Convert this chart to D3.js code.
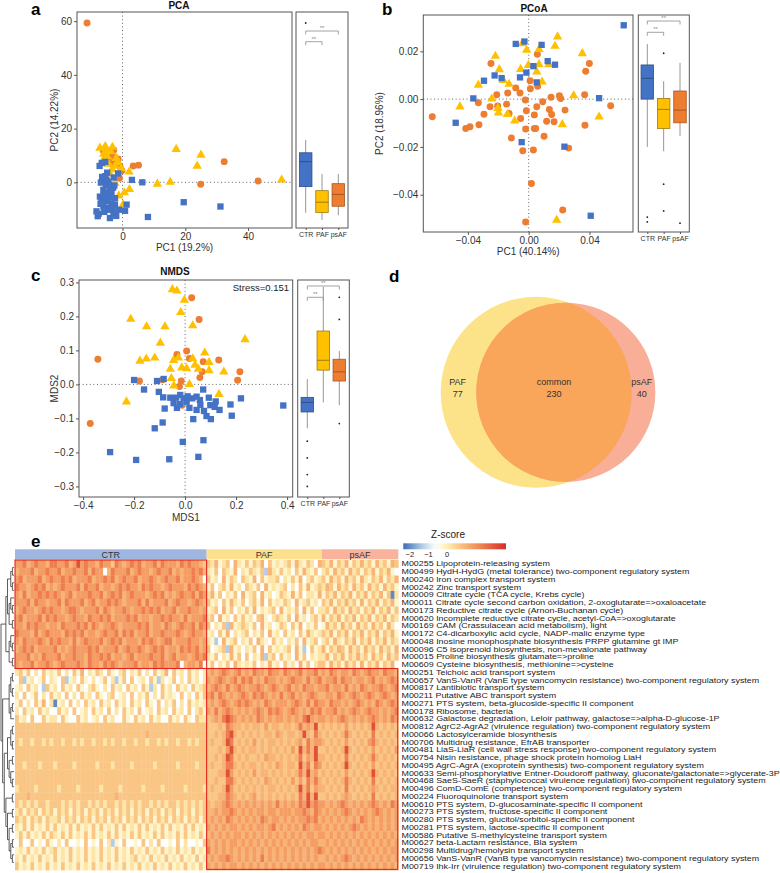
<!DOCTYPE html>
<html><head><meta charset="utf-8">
<script src="https://cdn.jsdelivr.net/npm/d3@7"></script>
<style>body{margin:0;background:#fff} svg text{font-family:"Liberation Sans",Arial,sans-serif}</style>
</head><body><svg id="c" width="780" height="873"></svg>
<script>
// ---------------- DATA ----------------
const groups = ['CTR','PAF','psAF'];

// Panel a: PCA
const pcaCTR = [[-7.3,6.1],[-6.6,7.2],[-5.5,7.6],[-4.9,3.6],[-1.4,3.3],[-2.8,1.8],[-6.9,-0.1],[-5.3,-1.0],[-4.0,-2.2],[-5.6,-3.8],[-4.0,-5.3],[-6.7,-6.5],[-5.1,-7.1],[-3.5,-8.0],[-4.9,-9.6],[-8.3,-10.8],[-7.6,-11.7],[-7.9,-12.6],[-4.0,-10.2],[-2.9,-11.4],[-4.0,-13.3],[-1.1,-10.2],[0.8,-10.6],[1.3,-8.3],[3.0,0.9],[6.3,0.0],[8.1,-12.9],[19.5,-7.4],[31.2,-9.0],[-6.1,-2.8],[-4.6,0.2],[-3.5,-4.0],[-2.4,-5.9],[-7.2,-5.3],[-6.1,-9.0],[-2.4,-8.3],[-5.1,0.9],[-5.5,2.3],[-3.0,-2.0],[-6.0,-4.6],[-4.5,-6.0],[-3.2,-9.3],[-5.8,-11.0],[-2.0,-12.5],[-6.5,2.0],[-4.2,-0.8],[-7.0,-8.0],[-3.8,-3.0],[-5.0,-5.5],[-2.6,-1.2]];
const pcaPAF = [[-7.2,12.8],[-5.5,13.4],[-3.2,13.1],[-4.9,9.7],[-5.3,8.5],[-2.4,6.1],[2.1,3.9],[17.1,12.3],[25.0,10.2],[23.8,6.1],[11.1,-0.6],[15.2,0.1],[2.2,-2.6],[0.6,-3.8],[-2.4,-0.4],[-4.0,3.2],[-2.9,-7.7],[0.2,-8.3],[50.7,0.9],[-6.0,10.5],[-3.8,11.5],[-1.5,7.5],[-4.4,6.8],[-3.3,4.8],[-6.3,8.0],[-2.0,9.0],[-5.0,11.8],[-1.2,-5.0],[-3.6,-6.2],[-0.5,5.2]];
const pcaPsAF = [[-11.3,59.3],[-6.1,11.7],[-3.7,10.4],[-2.5,9.4],[-1.4,8.7],[-3.2,6.7],[-0.2,4.3],[3.4,6.1],[5.1,6.4],[24.9,-0.7],[32.4,7.7],[43.2,0.5],[-1.9,-10.3],[-4.5,8.2],[-2.0,7.3],[-5.2,9.8],[-0.8,6.0],[-3.5,-5.8],[-1.0,1.5],[-2.8,12.0]];
const pcaBox = [
  {g:'CTR', lo:-11.3, q1:-1.6, med:7.7, q3:11.0, hi:15.8, out:[59.3]},
  {g:'PAF', lo:-14.0, q1:-11.2, med:-7.4, q3:-3.1, hi:3.1, out:[]},
  {g:'psAF', lo:-12.2, q1:-8.9, med:-4.5, q3:-0.5, hi:3.1, out:[]}];

// Panel b: PCoA
const pcoaCTR = [[0.0625,0.0309],[-0.0085,0.0231],[-0.0028,0.0241],[0.0085,0.0227],[0.0125,0.0159],[0.0173,0.0144],[0.0031,0.0138],[-0.0015,0.0111],[-0.0057,0.0091],[0.0053,0.0070],[-0.0178,0.0088],[-0.0224,0.0099],[-0.0294,0.0077],[-0.0364,0.0003],[0.0463,0.0004],[-0.0480,-0.0099],[-0.0046,-0.0180],[0.0235,-0.0199],[0.0408,-0.0488]];
const pcoaPAF = [[0.0190,0.0261],[0.0173,0.0222],[-0.0042,0.0233],[-0.0013,0.0205],[0.0068,0.0208],[-0.0219,0.0180],[-0.0193,0.0124],[-0.0167,0.0079],[-0.0129,0.0063],[-0.0331,0.0059],[-0.0053,0.0125],[-0.0002,0.0142],[0.0053,0.0114],[0.0068,0.0145],[0.0132,0.0145],[0.0088,0.0072],[0.0353,0.0191],[0.0296,0.0015],[-0.0243,0.0001],[-0.0202,-0.0038],[-0.0199,-0.0057],[-0.0140,-0.0064],[-0.0092,-0.0091],[0.0221,-0.0106],[0.0463,-0.0074],[-0.0452,-0.0032],[0.0184,-0.0506]];
const pcoaPsAF = [[-0.0634,-0.0074],[-0.0414,-0.0123],[-0.0386,-0.0116],[-0.0327,-0.0107],[-0.0331,-0.0015],[-0.0294,-0.0063],[-0.0254,-0.0032],[-0.0204,-0.0029],[-0.0248,0.0149],[-0.0210,0.0018],[-0.0145,-0.0021],[-0.0129,-0.0060],[-0.0138,0.0026],[-0.0085,0.0047],[-0.0057,0.0026],[-0.0114,-0.0163],[-0.0053,-0.0081],[-0.0039,-0.0216],[-0.0022,-0.0004],[-0.0015,-0.0049],[-0.0020,-0.0125],[0.0009,0.0077],[0.0011,0.0043],[0.0031,-0.0213],[0.0037,-0.0123],[0.0046,-0.0123],[0.0037,-0.0066],[0.0053,-0.0032],[0.0059,0.0054],[0.0057,0.0188],[0.0092,-0.0011],[0.0101,-0.0155],[0.0118,-0.0093],[0.0136,-0.0043],[0.0147,0.0008],[0.0151,-0.0064],[0.0167,-0.0095],[0.0202,0.0014],[0.0210,0.0003],[0.0239,-0.0046],[0.0263,-0.0205],[0.0375,0.0117],[0.0399,0.0149],[0.0368,0.0018],[0.0370,-0.0109],[0.0539,-0.0028],[0.0018,-0.0353],[0.0224,-0.0464],[-0.0020,-0.0514]];
const pcoaBox = [
  {g:'CTR', lo:-0.020, q1:0.0, med:0.0087, q3:0.0143, hi:0.023, out:[-0.0494,-0.0514]},
  {g:'PAF', lo:-0.0218, q1:-0.0123, med:-0.0043, q3:0.0003, hi:0.0075, out:[0.0192,-0.0356,-0.0468]},
  {g:'psAF', lo:-0.0154, q1:-0.0099, med:-0.0046, q3:0.0034, hi:0.0152, out:[-0.0519]}];

// Panel c: NMDS
const nmdsCTR = [[-0.200,0.013],[-0.161,-0.015],[-0.110,0.010],[-0.084,0.016],[-0.103,-0.022],[-0.086,-0.038],[-0.058,-0.039],[-0.035,-0.039],[-0.019,-0.031],[-0.006,-0.041],[0.006,-0.051],[0.028,-0.041],[0.045,-0.036],[0.058,-0.046],[0.071,-0.015],[0.093,-0.039],[0.099,-0.061],[0.116,-0.066],[0.135,-0.075],[0.178,-0.059],[0.219,-0.041],[0.183,-0.092],[-0.080,-0.071],[-0.032,-0.069],[0.017,-0.069],[0.045,-0.075],[0.074,-0.078],[0.084,-0.093],[0.101,-0.102],[0.032,-0.102],[-0.088,-0.112],[-0.119,-0.129],[-0.009,-0.169],[0.072,-0.164],[-0.062,-0.220],[0.052,-0.213],[0.385,-0.062],[-0.294,-0.199],[-0.192,-0.222],[-0.045,-0.055],[0.010,-0.035],[0.060,-0.060],[-0.020,-0.058],[0.120,-0.050]];
const nmdsPAF = [[-0.050,0.279],[-0.032,0.275],[-0.003,0.248],[-0.017,0.212],[0.030,0.173],[-0.213,0.192],[-0.151,0.170],[-0.079,0.170],[-0.097,0.122],[0.235,0.132],[-0.177,0.069],[-0.152,0.075],[-0.119,0.078],[-0.045,0.071],[-0.026,0.078],[-0.013,0.049],[0.006,0.047],[0.030,0.076],[0.039,0.057],[0.052,0.045],[0.077,0.093],[0.094,0.065],[0.094,0.041],[0.152,0.037],[-0.058,0.045],[-0.054,0.018],[-0.044,-0.004],[0.017,0.000],[0.133,-0.029],[-0.230,-0.051]];
const nmdsPsAF = [[0.026,0.255],[0.055,0.191],[-0.342,0.074],[-0.372,-0.115],[-0.032,0.088],[0.006,0.098],[0.017,0.076],[0.071,0.067],[0.132,0.072],[0.067,0.037],[0.058,0.020],[0.215,0.037],[0.206,0.012],[-0.179,0.010],[-0.088,0.014],[-0.015,0.010],[-0.022,-0.006],[-0.012,-0.061]];
const nmdsBox = [
  {g:'CTR', lo:-0.129, q1:-0.081, med:-0.053, q3:-0.038, hi:0.016, out:[-0.167,-0.216,-0.265,-0.300]},
  {g:'PAF', lo:-0.053, q1:0.042, med:0.071, q3:0.157, hi:0.287, out:[]},
  {g:'psAF', lo:-0.061, q1:0.010, med:0.037, q3:0.074, hi:0.098, out:[0.256,0.191,-0.115]}];

// Panel d: Venn
const vennNames = ['PAF','common','psAF'];
const vennCounts = [77,230,40];

// Panel e: heatmap (levels 0..9, 0 = low Z, 9 = high Z)
const zLevels = [-2.0,-1.3,-0.6,-0.2,0.2,0.7,1.0,1.4,1.9,2.6];
const heatGroups = ['CTR','PAF','psAF'];
const heatGroupSizes = [50,30,20];
const modules = [
"M00255 Lipoprotein-releasing system",
"M00499 HydH-HydG (metal tolerance) two-component regulatory system",
"M00240 Iron complex transport system",
"M00242 Zinc transport system",
"M00009 Citrate cycle (TCA cycle, Krebs cycle)",
"M00011 Citrate cycle second carbon oxidation, 2-oxoglutarate=>oxaloacetate",
"M00173 Reductive citrate cycle (Arnon-Buchanan cycle)",
"M00620 Incomplete reductive citrate cycle, acetyl-CoA=>oxoglutarate",
"M00169 CAM (Crassulacean acid metabolism), light",
"M00172 C4-dicarboxylic acid cycle, NADP-malic enzyme type",
"M00048 Inosine monophosphate biosynthesis PRPP glutamine gt IMP",
"M00096 C5 isoprenoid biosynthesis, non-mevalonate pathway",
"M00015 Proline biosynthesis glutamate=>proline",
"M00609 Cysteine biosynthesis, methionine=>cysteine",
"M00251 Teichoic acid transport system",
"M00657 VanS-VanR (VanE type vancomycin resistance) two-component regulatory system",
"M00817 Lantibiotic transport system",
"M00211 Putative ABC transport system",
"M00271 PTS system, beta-glucoside-specific II component",
"M00178 Ribosome, bacteria",
"M00632 Galactose degradation, Leloir pathway, galactose=>alpha-D-glucose-1P",
"M00812 AgrC2-AgrA2 (virulence regulation) two-component regulatory system",
"M00066 Lactosylceramide biosynthesis",
"M00706 Multidrug resistance, EfrAB transporter",
"M00481 LiaS-LiaR (cell wall stress response) two-component regulatory system",
"M00754 Nisin resistance, phage shock protein homolog LiaH",
"M00495 AgrC-AgrA (exoprotein synthesis) two-component regulatory system",
"M00633 Semi-phosphorylative Entner-Doudoroff pathway, gluconate/galactonate=>glycerate-3P",
"M00468 SaeS-SaeR (staphylococcal virulence regulation) two-component regulatory system",
"M00496 ComD-ComE (competence) two-component regulatory system",
"M00224 Fluoroquinolone transport system",
"M00610 PTS system, D-glucosaminate-specific II component",
"M00273 PTS system, fructose-specific II component",
"M00280 PTS system, glucitol/sorbitol-specific II component",
"M00281 PTS system, lactose-specific II component",
"M00586 Putative S-methylcysteine transport system",
"M00627 beta-Lactam resistance, Bla system",
"M00298 Multidrug/hemolysin transport system",
"M00656 VanS-VanR (VanB type vancomycin resistance) two-component regulatory system",
"M00719 Ihk-Irr (virulence regulation) two-component regulatory system"];

const heatCTR = [
"7786787768 8778679787 7687758767 8786778687 7768787765",
"6777867787 7867787786 8772687778 6787767877 8676778786",
"7867778678 7787867778 6778786787 7867787678 7786778762",
"8776787867 6787778687 7867767878 7768787767 8777687876",
"7686778787 8767867778 7786787867 8777678786 7678778687",
"7778687767 7868777867 8677878767 7786867778 6787767876",
"6787767878 7767887677 7868767787 6778787867 7867787767",
"7867778687 8776787768 7787867778 7867767787 8776867778",
"7768787767 7687778786 8767787677 7787867768 7678778687",
"8777686787 7768787867 7678778687 8677867787 7787678776",
"7687778768 7877686787 7786787867 7768787678 8677787767",
"6787867777 8676787778 7867778678 7787678786 7768787867",
"7778676877 7867787768 7787867767 8677787786 7867767878",
"7677867787 6787778768 7768787677 7867768787 7782677682",
"4535242534 3524253624 3542532452 4352425346 2534253424",
"2513423524 3251342532 4235241352 5234253142 3524253424",
"3425342153 4253425324 5324253425 3425314253 4253425345",
"4252352425 3425242534 2532452342 5243524253 4325242535",
"3524253624 0342524253 4253425342 5342532524 3524253434",
"4253425342 2534252342 5342524253 4252342534 2534252453",
"5342522534 4253225342 3425342253 2534253422 5342532544",
"5555555555 5555555555 5555555555 5555555555 5555555555",
"5555555555 5555555555 5555555555 5555655555 5555555555",
"5455455454 5545545455 4554545545 5455455454 5545545455",
"5555555555 5555555555 5555555555 5555555555 5555555555",
"5555555555 5555555555 5555555555 5555555555 5555555555",
"5545554555 4555545555 5455545555 4555554555 5545555455",
"5555555555 5555555555 5555555555 5555555555 5555555555",
"5555555555 5555555555 5555555555 5555555555 5555555555",
"4555545555 5455554555 5545555455 5554555545 5555455554",
"5556555555 5555555555 5555556555 5555555555 5555555555",
"5454545545 5545454554 5454554545 4545545454 5545454545",
"4535453545 3545354535 4535453545 3545354535 4535453545",
"5453545354 4535453545 3545354535 4535453545 3545354535",
"4353534353 5343535343 5353435353 4353534353 5343535343",
"3535343535 4353534353 5343535343 5353435353 4353534353",
"2522523253 2425223252 3252413252 2325242522 3252422325",
"3435343534 5343534353 4353435343 5343534353 4353435343",
"4353435343 5343534353 4353435343 4534353435 3435343534",
"5343534353 4353435343 5343534353 4353435343 5343534353"];

const heatPAF = [
"5463452643 5354625343 4536435426",
"4352543624 3543516435 3425364352",
"5342635425 4362534452 4353624534",
"3524536342 5435263434 5242536345",
"4635243526 3452634235 4363524436",
"5342536435 2453625343 5426345342",
"3452635243 5362434526 3435263524",
"4526342535 3425632454 3526342453",
"5243516345 4352634235 4253624352",
"3425362434 5243526342 5342536434",
"4312634524 3526432534 2435263452",
"5234516342 4352625343 4526312534",
"4352436352 5243614525 3426352434",
"3524352643 4352436342 5342635245",
"6767876786 7687768776 8767867786",
"7678767868 7867687767 6787768678",
"6787686787 6778767876 7867687767",
"7868767678 7687876768 6786767876",
"6767876787 8767687677 7678768687",
"7686787676 7678768787 6787676878",
"5676898767 6768767677 6767689767",
"5556587665 6566575665 6656867695",
"5565689656 5656566576 5665696586",
"5655698565 6575656656 5656758677",
"5556579656 5665656565 6575968695",
"5565698565 6556576656 5656857696",
"5655688656 5665656576 5665968587",
"5556697565 6575665656 5656869675",
"5565588656 5656576565 6575758686",
"5655697565 6565656656 5656968576",
"5556687656 5675656565 6565869695",
"6566787676 7676767686 7676879787",
"6676778767 6767767767 7767787687",
"6767687676 7676876776 7676778786",
"7676767767 6767767867 6767687677",
"6767676776 7676767676 7676767767",
"7676767767 6767676767 6767676776",
"8676767676 7676767676 7676767678",
"6767787676 7676867676 7676767676",
"7676767767 6767676767 6767676767"];

const heatPsAF = [
"5463546354 6453645365",
"4536453645 3546354632",
"5364536453 6435463546",
"4653645364 5364536453",
"3546354635 4635463504",
"5463546453 6354635463",
"4536453645 3546354635",
"6354635463 5463546354",
"3645364536 4536453642",
"5463546354 6354635463",
"4536435463 5463546354",
"6354653645 3645364536",
"4635463546 4536453645",
"5364536453 6354635462",
"7687677687 6787768776",
"6778687767 7678676787",
"7867768676 8767787678",
"6776876787 6787678767",
"7687767678 7676876787",
"6778676787 6787767678",
"7676787676 7678767687",
"6565657565 6569656565",
"5656568656 5658565656",
"6565657565 6578656565",
"5656569656 5657565657",
"6565658565 6568656565",
"5656569656 5657565656",
"6565657565 6569656565",
"5656568656 5658565656",
"6565658565 6567656566",
"5656567656 5658565656",
"7676787676 7678767687",
"6767678767 6767876767",
"7676767676 8767676767",
"6767676787 6767676767",
"7676767676 7676767676",
"6767676767 6767676767",
"7676767676 7676767677",
"6767678767 6767676767",
"7676767676 7676767676"];

// dendrogram (row indices, nested merges)
const rowTree = [
  [[[[0,1],[2,3]],[[4,[5,6]],[7,8]]],[[9,[10,11]],[12,13]]],
  [[[[14,15],[16,17]],[[18,19],20]],[[[[21,22],[23,24]],[[25,26],[27,[28,29]]]],[[30,31],[[32,33],[[34,35],[[36,37],[38,39]]]]]]]
];

// ---------------- STYLE ----------------
const gColor = {CTR:'#4472C4', PAF:'#FFC000', psAF:'#ED7D31'};
const gStroke = {CTR:'#2E4F8C', PAF:'#9E7B10', psAF:'#A85620'};
const gSymbol = {CTR:d3.symbolSquare, PAF:d3.symbolTriangle, psAF:d3.symbolCircle};
const gSize = {CTR:40, PAF:38, psAF:38};
const FONT = '"Liberation Sans",Arial,sans-serif';

const svg = d3.select('#c');
const defs = svg.append('defs');

function styleAxis(sel, fs){
  sel.select('.domain').remove();
  sel.selectAll('line').attr('stroke','#555');
  sel.selectAll('text').attr('fill','#333').attr('font-size',fs).attr('font-family',FONT);
}

function panel(cfg){
  const g = svg.append('g');
  const x = d3.scaleLinear().domain(cfg.xDom).range([cfg.px0,cfg.px1]);
  const y = d3.scaleLinear().domain(cfg.yDom).range([cfg.py1,cfg.py0]);
  g.append('line').attr('x1',x(0)).attr('x2',x(0)).attr('y1',cfg.py0).attr('y2',cfg.py1)
    .attr('stroke','#666').attr('stroke-dasharray','1,2.6');
  g.append('line').attr('x1',cfg.px0).attr('x2',cfg.px1).attr('y1',y(0)).attr('y2',y(0))
    .attr('stroke','#666').attr('stroke-dasharray','1,2.6');
  ['psAF','PAF','CTR'].forEach(k=>{
    g.append('g').selectAll('path').data(cfg.pts[k]).join('path')
      .attr('transform',d=>`translate(${x(d[0])},${y(d[1])})`)
      .attr('d',d3.symbol().type(gSymbol[k]).size(gSize[k]))
      .attr('fill',gColor[k]);
  });
  g.append('rect').attr('x',cfg.px0).attr('y',cfg.py0).attr('width',cfg.px1-cfg.px0).attr('height',cfg.py1-cfg.py0)
    .attr('fill','none').attr('stroke','#555').attr('stroke-width',1);
  const xa = g.append('g').attr('transform',`translate(0,${cfg.py1})`)
    .call(d3.axisBottom(x).tickValues(cfg.xTicks).tickFormat(cfg.fmt).tickSize(3).tickPadding(2));
  styleAxis(xa, cfg.fs);
  const ya = g.append('g').attr('transform',`translate(${cfg.px0},0)`)
    .call(d3.axisLeft(y).tickValues(cfg.yTicks).tickFormat(cfg.fmt).tickSize(3).tickPadding(2));
  styleAxis(ya, cfg.fs);
  g.append('text').attr('x',(cfg.px0+cfg.px1)/2).attr('y',cfg.py1+cfg.xlabOff).attr('text-anchor','middle')
    .attr('font-size',10).attr('fill','#333').text(cfg.xLabel);
  g.append('text').attr('transform',`translate(${cfg.ylabX},${(cfg.py0+cfg.py1)/2}) rotate(-90)`).attr('text-anchor','middle')
    .attr('font-size',10).attr('fill','#333').text(cfg.yLabel);
  g.append('text').attr('x',cfg.titleX).attr('y',cfg.titleY).attr('text-anchor','middle')
    .attr('font-size',10).attr('font-weight','bold').attr('fill','#111').text(cfg.title);
  g.append('text').attr('x',cfg.labX).attr('y',cfg.labY).attr('font-size',17).attr('font-weight','bold').attr('fill','#000').text(cfg.label);
  const xb = d3.scalePoint().domain(groups).range([cfg.bc0,cfg.bc1]);
  const bw = 12.5;
  const bg = g.append('g');
  cfg.box.forEach(b=>{
    const cx = xb(b.g);
    bg.append('line').attr('x1',cx).attr('x2',cx).attr('y1',y(b.lo)).attr('y2',y(b.hi)).attr('stroke','#8a8a8a').attr('stroke-width',0.9);
    bg.append('rect').attr('x',cx-bw/2).attr('width',bw).attr('y',y(b.q3)).attr('height',y(b.q1)-y(b.q3))
      .attr('fill',gColor[b.g]).attr('stroke',gStroke[b.g]).attr('stroke-width',0.8);
    bg.append('line').attr('x1',cx-bw/2).attr('x2',cx+bw/2).attr('y1',y(b.med)).attr('y2',y(b.med)).attr('stroke',gStroke[b.g]).attr('stroke-width',1);
    bg.selectAll(null).data(b.out).join('circle').attr('cx',cx).attr('cy',v=>y(v)).attr('r',0.9).attr('fill','#222');
  });
  cfg.brackets.forEach(br=>{
    const x1 = xb(br[0]), x2 = xb(br[1]), yt = br[2];
    bg.append('path').attr('d',`M${x1},${yt+3.5}V${yt}H${x2}V${yt+3.5}`).attr('fill','none').attr('stroke','#8a8a8a').attr('stroke-width',0.8);
    bg.append('text').attr('x',(x1+x2)/2).attr('y',yt-1).attr('text-anchor','middle').attr('font-size',6).attr('fill','#888').text('**');
  });
  bg.append('rect').attr('x',cfg.bx0).attr('y',cfg.py0).attr('width',cfg.bx1-cfg.bx0).attr('height',cfg.py1-cfg.py0)
    .attr('fill','none').attr('stroke','#555').attr('stroke-width',1);
  const ba = bg.append('g').attr('transform',`translate(0,${cfg.py1})`)
    .call(d3.axisBottom(xb).tickSize(2).tickPadding(2));
  styleAxis(ba, 7);
  return {x,y};
}

panel({label:'a', labX:31, labY:15, title:'PCA', titleX:179, titleY:9,
  px0:77, px1:292, py0:12, py1:228, xDom:[-14.5,54], yDom:[-17,63.4],
  xTicks:[0,20,40], yTicks:[0,20,40,60], fmt:d3.format('d'), fs:10,
  xLabel:'PC1 (19.2%)', yLabel:'PC2 (14.22%)', xlabOff:23, ylabX:58,
  pts:{CTR:pcaCTR, PAF:pcaPAF, psAF:pcaPsAF}, box:pcaBox,
  bx0:296, bx1:348, bc0:305.7, bc1:338.3, brackets:[['CTR','psAF',31],['CTR','PAF',41.7]]});

panel({label:'b', labX:382, labY:15, title:'PCoA', titleX:534, titleY:12,
  px0:423.3, px1:633, py0:15, py1:232, xDom:[-0.0693,0.0686], yDom:[-0.0556,0.0352],
  xTicks:[-0.04,0,0.04], yTicks:[-0.04,-0.02,0,0.02], fmt:d3.format('.2f'), fs:10,
  xLabel:'PC1 (40.14%)', yLabel:'PC2 (18.96%)', xlabOff:23, ylabX:383,
  pts:{CTR:pcoaCTR, PAF:pcoaPAF, psAF:pcoaPsAF}, box:pcoaBox,
  bx0:638.3, bx1:689.3, bc0:647.3, bc1:680, brackets:[['CTR','psAF',21],['CTR','PAF',32.3]]});

panel({label:'c', labX:31, labY:281, title:'NMDS', titleX:175, titleY:275,
  px0:79, px1:292.7, py0:280, py1:497, xDom:[-0.416,0.422], yDom:[-0.331,0.307],
  xTicks:[-0.4,-0.2,0,0.2,0.4], yTicks:[-0.3,-0.2,-0.1,0,0.1,0.2,0.3], fmt:d3.format('.1f'), fs:10,
  xLabel:'MDS1', yLabel:'MDS2', xlabOff:24, ylabX:58,
  pts:{CTR:nmdsCTR, PAF:nmdsPAF, psAF:nmdsPsAF}, box:nmdsBox,
  bx0:297.7, bx1:349.3, bc0:307.3, bc1:339.3, brackets:[['CTR','psAF',286],['CTR','PAF',297.3]]});

svg.append('text').attr('x',289).attr('y',291).attr('text-anchor','end').attr('font-size',9.5).attr('fill','#222').text('Stress=0.151');

// ---------------- Venn (d) ----------------
{
  const g = svg.append('g');
  g.append('text').attr('x',389).attr('y',282).attr('font-size',17).attr('font-weight','bold').text('d');
  const rS = d3.scaleSqrt().domain([0, vennCounts[0]+vennCounts[1]]).range([0,95.5]);
  const rP = rS(vennCounts[0]+vennCounts[1]), rQ = rS(vennCounts[1]+vennCounts[2]);
  const cy = 392.3, cxP = 536.2, cxQ = 565.8;
  defs.append('clipPath').attr('id','clipQ').append('circle').attr('cx',cxQ).attr('cy',cy).attr('r',rQ);
  g.append('circle').attr('cx',cxP).attr('cy',cy).attr('r',rP).attr('fill','#FCE389');
  g.append('circle').attr('cx',cxQ).attr('cy',cy).attr('r',rQ).attr('fill','#F9AE97');
  g.append('circle').attr('cx',cxP).attr('cy',cy).attr('r',rP).attr('fill','#F9A55A').attr('clip-path','url(#clipQ)');
  const lx = [457.7, 554, 641.7];
  vennNames.forEach((n,i)=>{
    g.append('text').attr('x',lx[i]).attr('y',385).attr('text-anchor','middle').attr('font-size',9).attr('fill','#333').text(n);
    g.append('text').attr('x',lx[i]).attr('y',397).attr('text-anchor','middle').attr('font-size',9).attr('fill','#333').text(vennCounts[i]);
  });
}

// ---------------- Heatmap (e) ----------------
{
  const g = svg.append('g');
  g.append('text').attr('x',31).attr('y',547).attr('font-size',17).attr('font-weight','bold').text('e');
  const nCols = d3.sum(heatGroupSizes);
  const xh = d3.scaleBand().domain(d3.range(nCols)).range([15,398.3]);
  const yh = d3.scaleBand().domain(d3.range(modules.length)).range([560,870]);
  const color = d3.scaleLinear().domain([-2.3,-1.4,-0.6,0,0.8,1.8,3.1])
    .range(['#3D6CB3','#A8C6E2','#FFFFFF','#FEF0B4','#F9C07E','#F08554','#D7302A']).clamp(true);
  const offsets = [0,50,80];
  const groupData = [heatCTR, heatPAF, heatPsAF];
  const cells = [];
  modules.forEach((m,r)=>{
    groupData.forEach((arr,gi)=>{
      const s = arr[r].replace(/ /g,'');
      for(let j=0;j<Math.min(s.length,heatGroupSizes[gi]);j++) cells.push({r, c:offsets[gi]+j, z:zLevels[+s[j]]});
    });
  });
  g.append('g').selectAll('rect').data(cells).join('rect')
    .attr('x',d=>xh(d.c)).attr('y',d=>yh(d.r)).attr('width',xh.bandwidth()+0.35).attr('height',yh.bandwidth()+0.35)
    .attr('fill',d=>color(d.z));
  const stripCol = {CTR:'#9EB6E0', PAF:'#FCE08C', psAF:'#F9B39C'};
  heatGroups.forEach((k,i)=>{
    const x0 = xh(offsets[i]), x1 = xh(offsets[i]+heatGroupSizes[i]-1)+xh.bandwidth();
    g.append('rect').attr('x',x0).attr('y',549.3).attr('width',x1-x0).attr('height',10).attr('fill',stripCol[k]);
    g.append('text').attr('x',(x0+x1)/2).attr('y',557.6).attr('text-anchor','middle').attr('font-size',9).attr('fill','#333').text(k);
  });
  g.append('rect').attr('x',xh(0)).attr('y',yh(0)).attr('width',xh(49)+xh.bandwidth()-xh(0)).attr('height',yh(13)+yh.bandwidth()-yh(0))
    .attr('fill','none').attr('stroke','#E3241C').attr('stroke-width',1.1);
  g.append('rect').attr('x',xh(50)).attr('y',yh(14)).attr('width',xh(99)+xh.bandwidth()-xh(50)-0.6).attr('height',yh(39)+yh.bandwidth()-yh(14)-0.6)
    .attr('fill','none').attr('stroke','#E3241C').attr('stroke-width',1.1);
  // row labels (wide, tightly leaded type as in the reference)
  g.append('g').attr('transform','translate(401.5,0) scale(1.33,1)')
    .selectAll('text').data(modules).join('text')
    .attr('x',0).attr('y',(d,i)=>yh(i)+yh.bandwidth()/2).attr('dy','0.36em')
    .attr('font-size',6.7).attr('fill','#222').text(d=>d);
  const root = d3.hierarchy(rowTree, d=>Array.isArray(d)?d:null);
  d3.cluster().size([yh(39)-yh(0), 13]).separation(()=>1)(root);
  const top = yh(0)+yh.bandwidth()/2;
  g.append('g').selectAll('path').data(root.links()).join('path')
    .attr('d',l=>`M${1+l.source.y},${top+l.source.x}V${top+l.target.x}H${1+l.target.y}`)
    .attr('fill','none').attr('stroke','#333').attr('stroke-width',0.8);
  const lg = svg.append('g');
  lg.append('text').attr('x',448).attr('y',538).attr('text-anchor','middle').attr('font-size',10).attr('fill','#222').text('Z-score');
  const ls = d3.scaleLinear().domain([-2,0]).range([409.3,446.7]);
  const dom = [ls.invert(403.3), ls.invert(506)];
  const grad = defs.append('linearGradient').attr('id','zgrad');
  d3.range(0,1.0001,0.05).forEach(t=>{
    grad.append('stop').attr('offset',t).attr('stop-color',color(dom[0]+t*(dom[1]-dom[0])));
  });
  lg.append('rect').attr('x',403.3).attr('y',543.3).attr('width',506-403.3).attr('height',6).attr('fill','url(#zgrad)');
  const la = lg.append('g').attr('transform','translate(0,549)')
    .call(d3.axisBottom(ls).tickValues([-2,-1,0]).tickFormat(d3.format('d')).tickSize(0).tickPadding(3));
  la.select('.domain').remove();
  la.selectAll('text').attr('font-size',7.5).attr('fill','#222').attr('font-family',FONT);
}
</script></body></html>
